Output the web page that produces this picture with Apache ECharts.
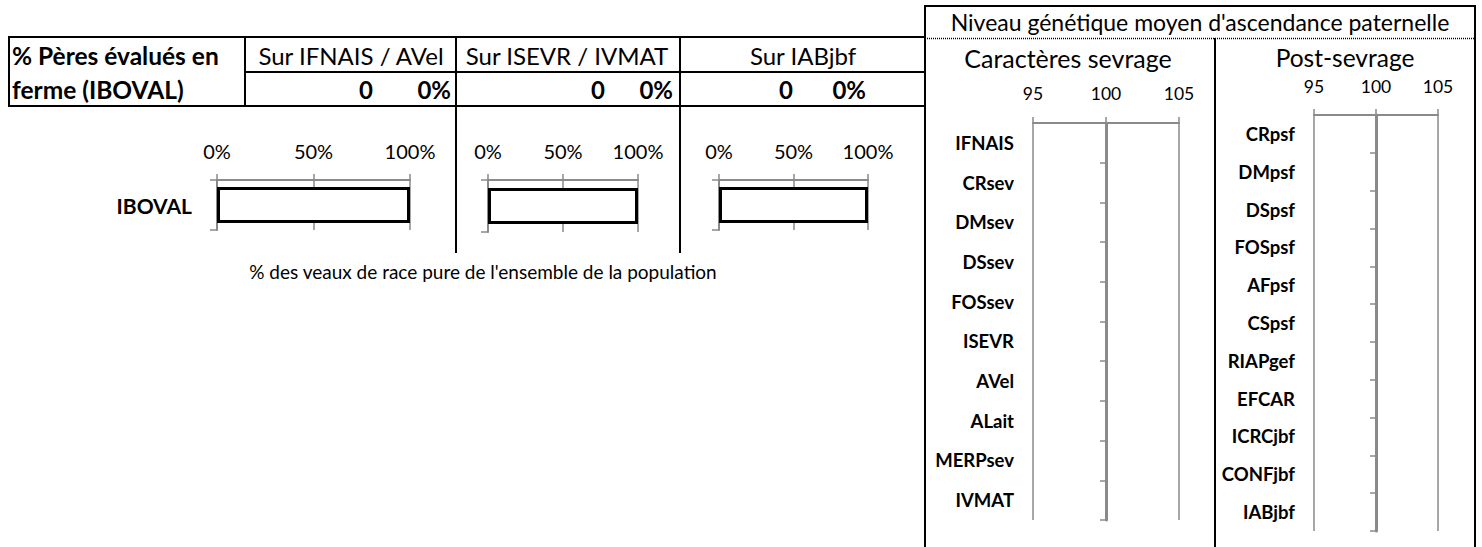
<!DOCTYPE html>
<html>
<head>
<meta charset="utf-8">
<script src="https://cdn.jsdelivr.net/npm/echarts@6/dist/echarts.min.js"></script>
<style>
html,body{margin:0;padding:0;background:#fff;}
#chart{width:1482px;height:547px;}
</style>
</head>
<body>
<div id="chart"></div>
<script>
// ---------- DATA ----------
const tableTitle = ['% Pères évalués en', 'ferme (IBOVAL)'];
const panelHeaders = ['Sur IFNAIS / AVel', 'Sur ISEVR / IVMAT', 'Sur IABjbf'];
const nbPeres = [0, 0, 0];
const pctPeres = ['0%', '0%', '0%'];
const barCategories = ['IBOVAL'];
const pureBredShare = [1, 1, 1];            // 100 % per panel
const pctTicks = { min: 0, max: 1, interval: 0.5 };
const caption = "% des veaux de race pure de l'ensemble de la population";

const geneticTitle = "Niveau génétique moyen d'ascendance paternelle";
const sevrageTitle = 'Caractères sevrage';
const postTitle = 'Post-sevrage';
const indexTicks = { min: 95, max: 105, interval: 5 };
const sevrageTraits = ['IFNAIS','CRsev','DMsev','DSsev','FOSsev','ISEVR','AVel','ALait','MERPsev','IVMAT'];
const sevrageValues = [null,null,null,null,null,null,null,null,null,null];
const postTraits = ['CRpsf','DMpsf','DSpsf','FOSpsf','AFpsf','CSpsf','RIAPgef','EFCAR','ICRCjbf','CONFjbf','IABjbf'];
const postValues = [null,null,null,null,null,null,null,null,null,null,null];

// ---------- STYLE ----------
const FONT = 'Lato, "Open Sans", sans-serif';
const GRAY = '#8a8a8a';

const chart = echarts.init(document.getElementById('chart'), null, {renderer: 'svg'});

const barGrids = [
  {left: 217, top: 180, width: 193, height: 50},
  {left: 488, top: 180, width: 150, height: 52},
  {left: 719, top: 180, width: 149, height: 50}
];
const genGrids = [
  {left: 1033, top: 123, width: 146, height: 397, labelMargin: 20.5},
  {left: 1314, top: 115, width: 124, height: 416, labelMargin: 19.5}
];

const grid = [], xAxis = [], yAxis = [], series = [];

barGrids.forEach((g, i) => {
  grid.push(Object.assign({outerBoundsMode: 'none', containLabel: false}, g));
  xAxis.push({
    type: 'value', gridIndex: i, position: 'top',
    min: pctTicks.min, max: pctTicks.max, interval: pctTicks.interval,
    axisLine: {show: true, lineStyle: {color: GRAY, width: 2}},
    axisTick: {show: true, length: 6, lineStyle: {color: GRAY, width: 1.5}},
    splitLine: {show: true, lineStyle: {color: GRAY, width: 1.5}},
    axisLabel: {formatter: v => Math.round(v * 100) + '%', color: '#000', fontFamily: FONT, fontSize: 20, margin: 19}
  });
  yAxis.push({
    type: 'category', gridIndex: i, data: barCategories,
    axisLine: {show: true, lineStyle: {color: GRAY, width: 2}},
    axisTick: {show: true, length: 7, lineStyle: {color: GRAY, width: 1.5}},
    axisLabel: {show: i === 0, color: '#000', fontFamily: FONT, fontSize: 21, fontWeight: 'bold', margin: 25}
  });
  series.push({
    type: 'bar', xAxisIndex: i, yAxisIndex: i,
    data: [pureBredShare[i]], barWidth: 36, silent: true,
    itemStyle: {color: '#ffffff', borderColor: '#000000', borderWidth: 3}
  });
});

function addGenetic(g, traits, values) {
  const gridIndex = grid.length;
  grid.push({outerBoundsMode: 'none', containLabel: false, left: g.left, top: g.top, width: g.width, height: g.height});
  xAxis.push({
    type: 'value', gridIndex, position: 'top',
    min: indexTicks.min, max: indexTicks.max, interval: indexTicks.interval,
    axisLine: {show: true, lineStyle: {color: GRAY, width: 2}},
    axisTick: {show: true, length: 6, lineStyle: {color: GRAY, width: 1.5}},
    splitLine: {show: true, lineStyle: {color: GRAY, width: 1.5}},
    axisLabel: {color: '#000', fontFamily: FONT, fontSize: 17.5, margin: g.labelMargin}
  });
  const labelAxis = yAxis.length;
  yAxis.push({
    type: 'category', gridIndex, data: traits, inverse: true, position: 'left',
    axisLine: {show: false}, axisTick: {show: false},
    axisLabel: {color: '#000', fontFamily: FONT, fontSize: 18.5, fontWeight: 'bold', margin: 19}
  });
  yAxis.push({
    type: 'category', gridIndex, data: traits, inverse: true, position: 'left',
    offset: -g.width / 2,
    axisLine: {show: true, lineStyle: {color: GRAY, width: 3}},
    axisTick: {show: true, length: 6, lineStyle: {color: GRAY, width: 1.5}},
    axisLabel: {show: false}, splitLine: {show: false}
  });
  series.push({
    type: 'bar', xAxisIndex: xAxis.length - 1, yAxisIndex: labelAxis,
    data: values, barWidth: '60%', silent: true,
    itemStyle: {color: '#4f81bd'}
  });
}
addGenetic(genGrids[0], sevrageTraits, sevrageValues);
addGenetic(genGrids[1], postTraits, postValues);

// ---------- TABLE / FRAME GRAPHICS ----------
const L = (x1, y1, x2, y2) => ({
  type: 'line', shape: {x1, y1, x2, y2}, silent: true,
  style: {stroke: '#000', lineWidth: 2}
});
const T = (x, y, text, size, opts) => ({
  type: 'text', x, y, silent: true,
  style: {text, fill: '#000', font: (opts && opts.bold ? 'bold ' : '') + size + 'px ' + FONT,
    textAlign: (opts && opts.align) || 'center', textVerticalAlign: 'middle'}
});

const colCenters = [351, 567, 803];
const countX = [366, 598, 786];
const pctRight = [451, 673, 866];

const graphic = [
  // left table
  L(9, 37, 926, 37), L(245, 72, 926, 72), L(9, 106, 926, 106),
  L(9, 36, 9, 107), L(245, 36, 245, 107),
  L(456, 36, 456, 253), L(680, 36, 680, 253),
  // right panel frame
  L(925, 6, 1475, 6), L(925, 5, 925, 547), L(1475, 5, 1475, 547),
  L(1215, 38, 1215, 547),
  {type: 'line', shape: {x1: 925, y1: 38.5, x2: 1475, y2: 38.5}, silent: true,
   style: {stroke: '#000', lineWidth: 1.5, lineDash: [1, 1]}},
  // texts
  T(12, 55, tableTitle[0], 24.5, {bold: true, align: 'left'}),
  T(12, 89, tableTitle[1], 24.5, {bold: true, align: 'left'}),
  T(483, 271, caption, 19),
  T(1200, 22, geneticTitle, 23),
  T(1068, 58, sevrageTitle, 25),
  T(1345, 57, postTitle, 24.5)
];
panelHeaders.forEach((h, i) => {
  graphic.push(T(colCenters[i], 55, h, 24));
  graphic.push(T(countX[i], 89, String(nbPeres[i]), 24, {bold: true}));
  graphic.push(T(pctRight[i], 89, pctPeres[i], 24, {bold: true, align: 'right'}));
});

chart.setOption({
  animation: false,
  backgroundColor: '#ffffff',
  textStyle: {fontFamily: FONT},
  grid, xAxis, yAxis, series, graphic
});
</script>
</body>
</html>
